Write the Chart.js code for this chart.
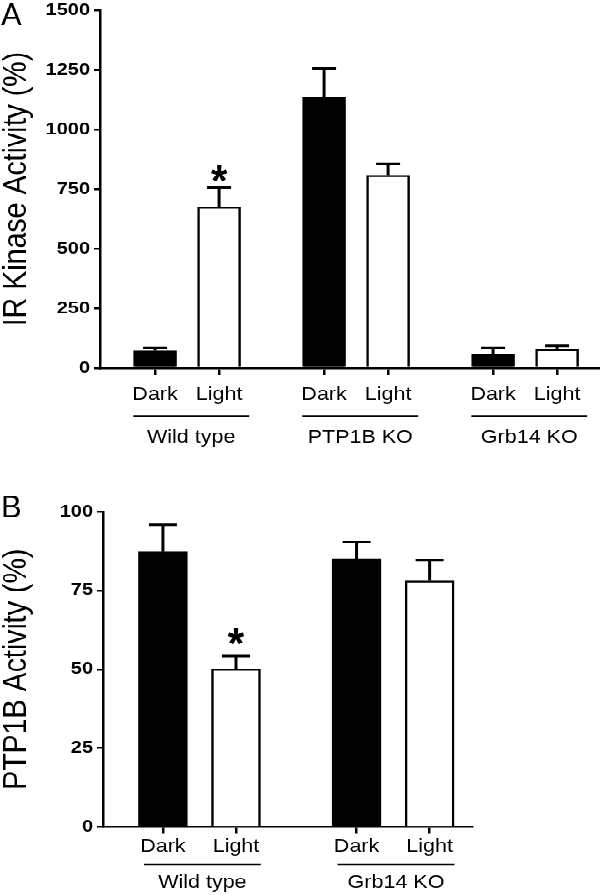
<!DOCTYPE html>
<html>
<head>
<meta charset="utf-8">
<script src="https://cdn.jsdelivr.net/npm/chart.js@4.4.0/dist/chart.umd.min.js"></script>
<style>
  html, body { margin: 0; padding: 0; background: #fff; overflow: hidden; }
  /* the original figure is slightly squashed vertically, so draw tall and squash */
  #figure { width: 600px; height: 1066px; transform: scaleY(0.84); transform-origin: 0 0; }
  #figure canvas { display: block; }
</style>
</head>
<body>
<div id="figure">
  <canvas id="chart-a" width="600" height="536"></canvas>
  <canvas id="chart-b" width="600" height="530"></canvas>
</div>
<script>
const conditions = ['Dark', 'Light'];

// panel A - IR kinase activity
const groupsA = ['Wild type', 'PTP1B KO', 'Grb14 KO'];
const irDark = [72, 1135, 56];
const irDarkErr = [12, 120, 28];
const irLight = [675, 808, 78];
const irLightErr = [80, 47, 14];
const yTicksA = [0, 250, 500, 750, 1000, 1250, 1500];

// panel B - PTP1B activity
const groupsB = ['Wild type', 'Grb14 KO'];
const ptpDark = [87.3, 85.1];
const ptpDarkErr = [8.5, 5.2];
const ptpLight = [50.1, 78.0];
const ptpLightErr = [4.1, 6.6];
const yTicksB = [0, 25, 50, 75, 100];

const family = "'Liberation Sans', Arial, sans-serif";
Chart.defaults.font.family = family;
Chart.defaults.color = '#000';

const panelExtras = {
    id: 'panelExtras',
    afterDatasetsDraw(chart, args, opts) {
        const { ctx } = chart;
        const x = chart.scales.x;
        const y = chart.scales.y;
        ctx.save();
        ctx.strokeStyle = '#000';
        ctx.fillStyle = '#000';
        ctx.lineWidth = 3;

        // error bars (upper only)
        chart.data.datasets.forEach(ds => {
            ds.data.forEach((pt, i) => {
                const px = x.getPixelForValue(pt.x);
                const top = y.getPixelForValue(pt.y);
                const end = y.getPixelForValue(pt.y + ds.errors[i]);
                ctx.beginPath();
                ctx.moveTo(px, top);
                ctx.lineTo(px, end);
                ctx.moveTo(px - opts.capWidth / 2, end);
                ctx.lineTo(px + opts.capWidth / 2, end);
                ctx.stroke();
            });
        });

        // significance star over wild type light
        const starDs = chart.data.datasets[1];
        const sx = x.getPixelForValue(starDs.data[0].x);
        const sy = y.getPixelForValue(starDs.data[0].y + starDs.errors[0]) - opts.starGap;
        ctx.save();
        ctx.translate(sx, sy);
        ctx.scale(1, 1.25);
        ctx.font = 'bold 42px ' + family;
        ctx.textAlign = 'center';
        ctx.textBaseline = 'alphabetic';
        ctx.fillText('*', 0, 42 * 0.39);
        ctx.restore();

        // group underlines and names
        ctx.lineWidth = 2.5;
        ctx.font = '21.5px ' + family;
        ctx.textAlign = 'center';
        opts.groups.forEach((name, g) => {
            const left = x.getPixelForValue(g * opts.step + opts.lineFrom);
            const right = x.getPixelForValue(g * opts.step + 1 + opts.lineTo);
            ctx.beginPath();
            ctx.moveTo(left, y.bottom + opts.lineY);
            ctx.lineTo(right, y.bottom + opts.lineY);
            ctx.stroke();
            ctx.fillText(name, (left + right) / 2, y.bottom + opts.labelY);
        });

        // panel letter
        ctx.save();
        ctx.translate(1, opts.letterY);
        ctx.scale(1, 1.2);
        ctx.font = '31px ' + family;
        ctx.textAlign = 'left';
        ctx.fillText(opts.letter, 0, 0);
        ctx.restore();

        ctx.restore();
    }
};

function makePanel(id, p) {
    const positions = [];
    p.groups.forEach((g, gi) => conditions.forEach((c, ci) => positions.push(gi * p.step + ci)));

    new Chart(document.getElementById(id).getContext('2d'), {
        type: 'bar',
        data: {
            datasets: [
                {
                    label: 'Dark',
                    data: p.dark.map((v, gi) => ({ x: gi * p.step, y: v })),
                    errors: p.darkErr,
                    backgroundColor: '#000',
                    borderColor: '#000',
                    borderWidth: 2.5,
                    barThickness: p.barWidth,
                    grouped: false
                },
                {
                    label: 'Light',
                    data: p.light.map((v, gi) => ({ x: gi * p.step + 1, y: v })),
                    errors: p.lightErr,
                    backgroundColor: '#fff',
                    borderColor: '#000',
                    borderWidth: 2.5,
                    barThickness: p.barWidth,
                    grouped: false
                }
            ]
        },
        options: {
            responsive: false,
            animation: false,
            devicePixelRatio: 1,
            layout: { padding: p.padding },
            plugins: {
                legend: { display: false },
                tooltip: { enabled: false },
                panelExtras: p.extras
            },
            scales: {
                x: {
                    type: 'linear',
                    min: p.xMin,
                    max: p.xMax,
                    offset: false,
                    afterBuildTicks: s => { s.ticks = positions.map(v => ({ value: v })); },
                    afterFit: s => { s.height = p.xAxisHeight; },
                    ticks: {
                        autoSkip: false,
                        maxRotation: 0,
                        color: '#000',
                        padding: p.xTickPad,
                        font: { size: 21.5 },
                        callback: (v, i) => conditions[i % 2]
                    },
                    grid: { offset: false, drawOnChartArea: false, tickLength: 8, color: '#000', lineWidth: 2.5 },
                    border: { color: '#000', width: 2.5 }
                },
                y: {
                    min: 0,
                    max: p.yTicks[p.yTicks.length - 1],
                    afterBuildTicks: s => { s.ticks = p.yTicks.map(v => ({ value: v })); },
                    afterFit: s => {
                        s.width = p.yAxisWidth;
                        // let the layout padding alone decide where the plot starts
                        s.paddingTop = 0;
                        s.paddingBottom = 0;
                    },
                    ticks: { color: '#000', padding: 4, font: { size: 20, weight: 'bold' }, callback: v => String(v) },
                    grid: { drawOnChartArea: false, tickLength: 6, color: '#000', lineWidth: 2.5 },
                    border: { color: '#000', width: 2.5 },
                    title: {
                        display: true,
                        text: p.title,
                        color: '#000',
                        padding: 0,
                        font: { size: 34, lineHeight: 1 }
                    }
                }
            }
        },
        plugins: [panelExtras]
    });
}

makePanel('chart-a', {
    groups: groupsA, dark: irDark, darkErr: irDarkErr, light: irLight, lightErr: irLightErr,
    yTicks: yTicksA, title: 'IR Kinase Activity (%)',
    step: 2.64, xMin: -0.86, xMax: 6.95, barWidth: 43,
    padding: { top: 12, right: 0, bottom: 0, left: 0 },
    yAxisWidth: 100, xAxisHeight: 98, xTickPad: 11,
    extras: { groups: groupsA, step: 2.64, lineFrom: -0.34, lineTo: 0.47, lineY: 57.5, labelY: 89.3,
              capWidth: 24, starGap: 11, letter: 'A', letterY: 30 }
});

makePanel('chart-b', {
    groups: groupsB, dark: ptpDark, darkErr: ptpDarkErr, light: ptpLight, lightErr: ptpLightErr,
    yTicks: yTicksB, title: 'PTP1B Activity (%)',
    step: 2.65, xMin: -0.82, xMax: 4.23, barWidth: 49,
    padding: { top: 73, right: 128, bottom: 0, left: 0 },
    yAxisWidth: 103, xAxisHeight: 81.5, xTickPad: 2.2,
    extras: { groups: groupsB, step: 2.65, lineFrom: -0.26, lineTo: 0.34, lineY: 44.4, labelY: 72.6,
              capWidth: 28, starGap: 17.5, letter: 'B', letterY: 79.5 }
});
</script>
</body>
</html>
